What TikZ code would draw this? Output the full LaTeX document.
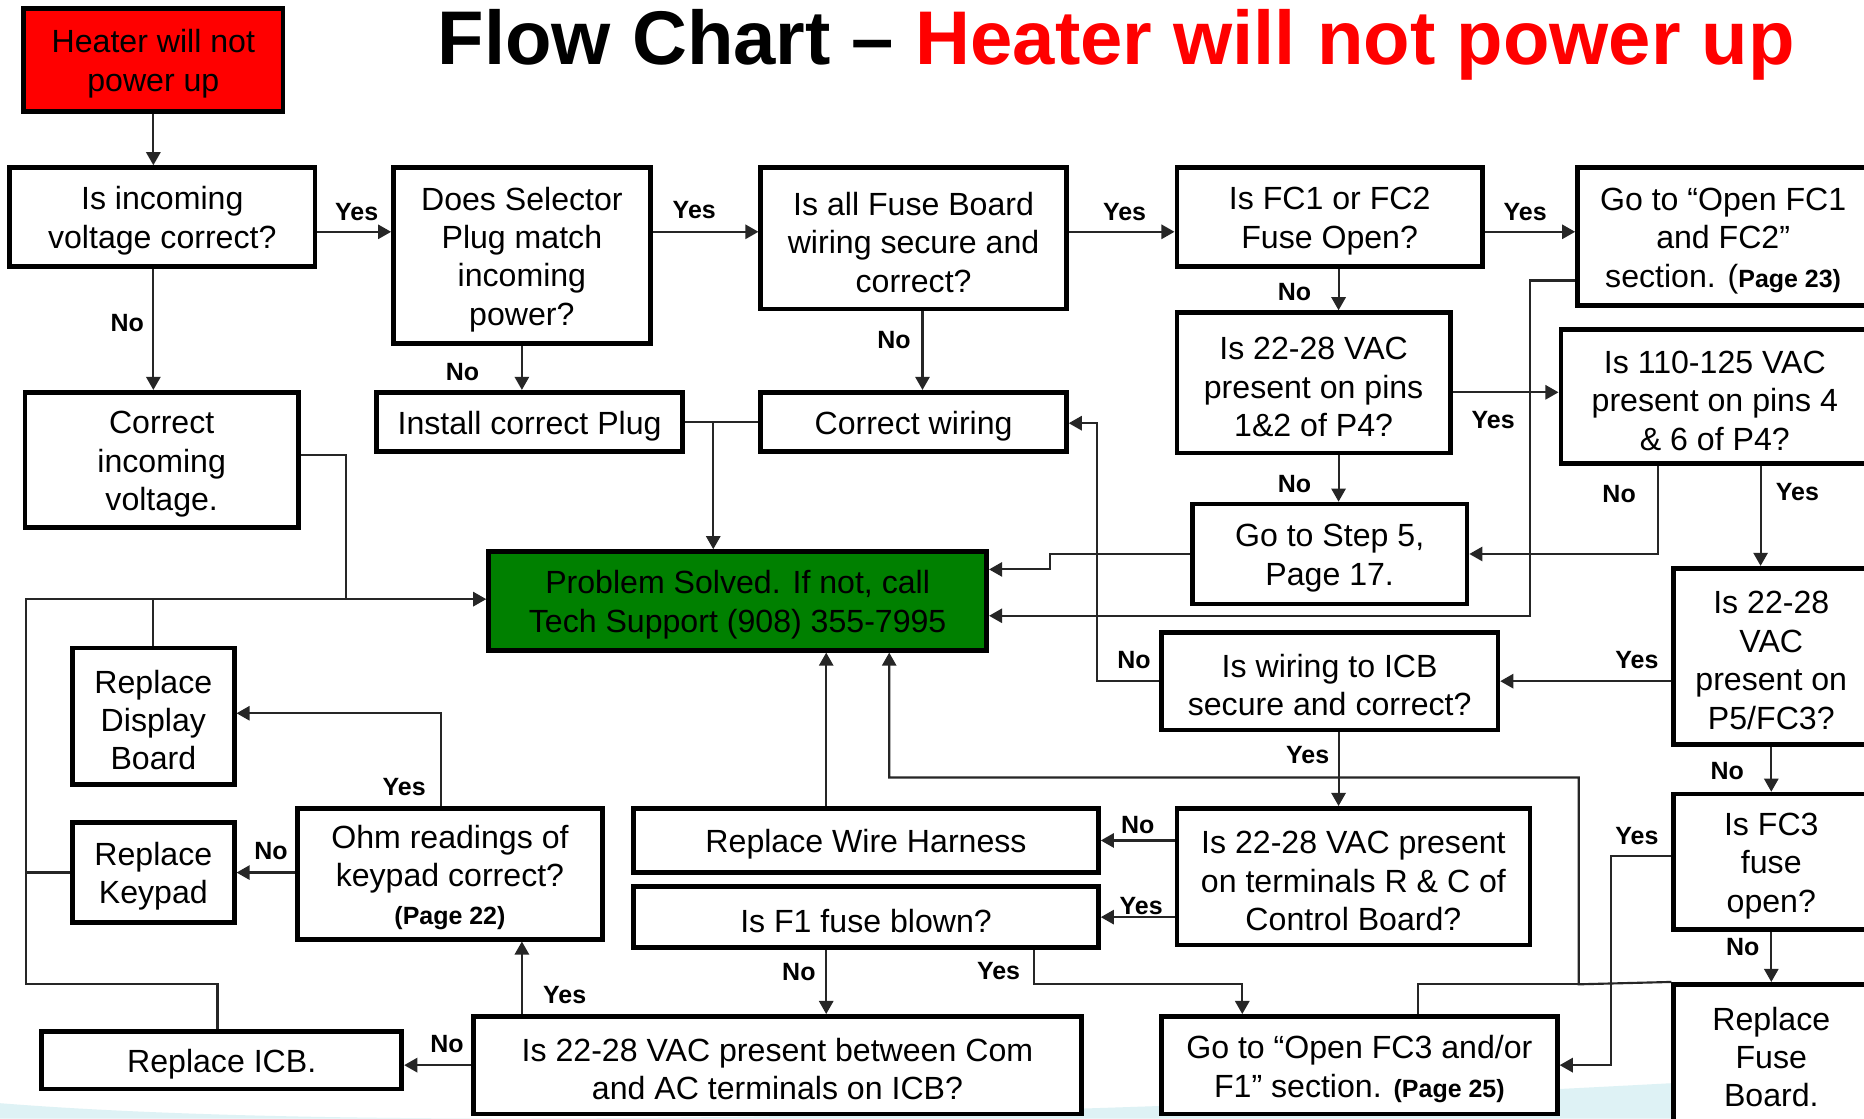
\documentclass[tikz,border=0pt]{standalone}
\usepackage{fontspec}
\setmainfont{Liberation Sans}
\usetikzlibrary{arrows.meta,calc}
\definecolor{swoosh}{RGB}{222,242,245}
\definecolor{okgreen}{RGB}{0,128,0}
\newcommand\pagefont{\bfseries\fontsize{21}{24}\selectfont}
\newcommand\mkbox[7][]{%
  \node[box,#1,minimum width={(#5-#3)*1pt},minimum height={(#6-#4)*1pt}] (#2) at ({(#3+#5)/2},{(#4+#6)/2}) {\rule{0pt}{26pt}#7};}
\tikzset{
  box/.style={draw=black,line width=4pt,fill=white,inner sep=0pt,align=center,
    font=\fontsize{27}{32.3}\selectfont},
  conn/.style={line width=1.8pt,draw=black!85},
  arr/.style={conn,-{Triangle[length=11pt,width=12pt]}},
  lbl/.style={font=\bfseries\fontsize{21}{24}\selectfont,inner sep=0pt},
}
\begin{document}
\begin{tikzpicture}[x=1pt,y=-1pt]
\useasboundingbox (0,0) rectangle (1568,941);
\clip (0,0) rectangle (1568,941);
\fill[white] (0,0) rectangle (1568,941);
\fill[swoosh] (0,941) -- (0,928) .. controls (300,952) and (900,942) .. (1568,902) -- (1568,941) -- cycle;

% title
\node[anchor=base,inner sep=0pt,font=\bfseries\fontsize{64}{70}\selectfont] (title) at (939,54) {Flow Chart – \textcolor{red}{Heater will not power up}};

% boxes
\mkbox[fill=red]{heater}{20}{7}{238}{94}{Heater will not\\power up}
\mkbox{q1}{8}{141}{265}{224}{Is incoming\\voltage correct?}
\mkbox{q2}{331}{141}{547}{289}{Does Selector\\Plug match\\incoming\\power?}
\mkbox{q3}{640}{141}{897}{260}{Is all Fuse Board\\wiring secure and\\correct?}
\mkbox{q4}{990}{141}{1247}{224}{Is FC1 or FC2\\Fuse Open?}
\mkbox{gofc12}{1327}{141}{1572}{257}{Go to “Open FC1\\and FC2”\\section. ({\pagefont Page 23)}}
\mkbox{correctv}{21}{330}{251}{444}{Correct\\incoming\\voltage.}
\mkbox{plug}{317}{330}{574}{380}{Install correct Plug}
\mkbox{cwiring}{640}{330}{897}{380}{Correct wiring}
\mkbox{q5}{990}{263}{1220}{381}{Is 22-28 VAC\\present on pins\\1\&2 of P4?}
\mkbox{q6}{1313}{277}{1572}{390}{Is 110-125 VAC\\present on pins 4\\\& 6 of P4?}
\mkbox{step5}{1003}{424}{1234}{508}{Go to Step 5,\\Page 17.}
\mkbox[fill=okgreen]{solved}{411}{464}{830}{547}{Problem Solved. If not, call\\Tech Support (908) 355-7995}
\mkbox{q7}{1408}{478}{1572}{626}{Is 22-28\\VAC\\present on\\P5/FC3?}
\mkbox{qicb}{977}{532}{1260}{614}{Is wiring to ICB\\secure and correct?}
\mkbox{repldisp}{61}{545}{197}{660}{Replace\\Display\\Board}
\mkbox{q8}{1408}{668}{1572}{782}{Is FC3\\fuse\\open?}
\mkbox{qrc}{990}{680}{1287}{795}{Is 22-28 VAC present\\on terminals R \& C of\\Control Board?}
\mkbox{harness}{533}{680}{924}{734}{Replace Wire Harness}
\mkbox{qf1}{533}{746}{924}{797}{Is F1 fuse blown?}
\mkbox{replkey}{61}{692}{197}{776}{Replace\\Keypad}
\mkbox{qohm}{250}{680}{507}{790}{Ohm readings of\\keypad correct?\\{\pagefont (Page 22)}}
\mkbox{replicb}{35}{868}{338}{916}{Replace ICB.}
\mkbox{qcom}{398}{855}{910}{937}{Is 22-28 VAC present between Com\\and AC terminals on ICB?}
\mkbox{gofc3}{977}{855}{1310}{937}{Go to “Open FC3 and/or\\F1” section. {\pagefont (Page 25)}}
\mkbox{replfuse}{1408}{828}{1572}{944}{Replace\\Fuse\\Board.}

% helper coordinates
\coordinate (r1) at (0,195);
\coordinate (c3) at (776,0);
\coordinate (c4) at (1126,0);
\coordinate (r5) at (0,330);
\coordinate (c6a) at (1395,0);
\coordinate (c6b) at (1481,0);
\coordinate (n1) at (883,479);
\coordinate (o0) at (1287,236);
\coordinate (o1) at (1287,518);
\coordinate (p0) at (291,383);
\coordinate (p1) at (291,504);
\coordinate (bl1) at (22,504);
\coordinate (bl2) at (22,828);
\coordinate (bl3) at (183,828);
\coordinate (q0) at (600,355);
\coordinate (rr) at (923,356);
\coordinate (v0) at (1355,720);
\coordinate (z0) at (695,0);
\coordinate (aa1) at (748,654);
\coordinate (aa2) at (1328,654);
\coordinate (aa3) at (1328,828);
\coordinate (aa4) at (1193,828);
\coordinate (cc1) at (870,828);
\coordinate (cc2) at (1045,828);
\coordinate (dd) at (439,0);
\coordinate (gg) at (371,600);

% connectors
\draw[arr] (heater.south) -- (heater.south |- q1.north);
\draw[arr] (q1.east |- r1) -- (q2.west |- r1);
\draw[arr] (q2.east |- r1) -- (q3.west |- r1);
\draw[arr] (q3.east |- r1) -- (q4.west |- r1);
\draw[arr] (q4.east |- r1) -- (gofc12.west |- r1);
\draw[arr] (q1.south -| heater.south) -- (correctv.north -| heater.south);
\draw[arr] (q2.south) -- (q2.south |- plug.north);
\draw[arr] (q3.south -| c3) -- (cwiring.north -| c3);
\draw[arr] (q4.south -| c4) -- (q5.north -| c4);
\draw[arr] (q5.east |- r5) -- (q6.west |- r5);
\draw[arr] (q5.south -| c4) -- (step5.north -| c4);
\draw[arr] (q6.south -| c6a) |- (step5.east);
\draw[arr] (q6.south -| c6b) -- (q7.north -| c6b);
\draw[arr] (step5.west) -| (n1) -- (n1 -| solved.east);
\draw[arr] (o0 -| gofc12.west) -- (o0) -- (o1) -- (o1 -| solved.east);
\draw[arr] (p0 -| correctv.east) -- (p0) -- (p1) -- (p1 -| solved.west);
\draw[conn] (replicb.north -| bl3) -- (bl3) -- (bl2) -- (bl1) -- (p1);
\draw[conn] (repldisp.north) -- (repldisp.north |- bl1);
\draw[conn] (replkey.west) -- (replkey.west -| bl1);
\draw[conn] (plug.east) -- (cwiring.west);
\draw[arr] (q0) -- (q0 |- solved.north);
\draw[arr] (qicb.west) -| (rr) -- (rr -| cwiring.east);
\draw[arr] (qicb.east -| q7.west) -- (qicb.east);
\draw[arr] (q7.south) -- (q8.north);
\draw[arr] (q8.south) -- (replfuse.north);
\draw[arr] (v0 -| q8.west) -- (v0) |- (gofc3.east);
\draw[arr] (qicb.south -| c4) -- (qrc.north -| c4);
\draw[arr] (qrc.west |- harness.east) -- (harness.east);
\draw[arr] (qrc.west |- qf1.east) -- (qf1.east);
\draw[arr] (harness.north -| z0) -- (solved.south -| z0);
\draw[arr] (replfuse.north west) -- (aa3) -- (aa2) -- (aa1) -- (aa1 |- solved.south);
\draw[conn] (gofc3.north -| aa4) -- (aa4) -- (aa3);
\draw[arr] (qf1.south -| z0) -- (qcom.north -| z0);
\draw[arr] (qf1.south -| cc1) -- (cc1) -- (cc2) -- (cc2 |- gofc3.north);
\draw[arr] (qcom.north -| dd) -- (qohm.south -| dd);
\draw[arr] (qcom.west) -- (qcom.west -| replicb.east);
\draw[arr] (qohm.west |- replkey.east) -- (replkey.east);
\draw[arr] (qohm.north -| gg) -- (gg) -- (gg -| repldisp.east);

% labels
\node[lbl] (l1) at (300,178) {Yes};
\node[lbl] (l2) at (584,177) {Yes};
\node[lbl] (l3) at (946,178) {Yes};
\node[lbl] (l4) at (1283,178) {Yes};
\node[lbl] (l5) at (107,272) {No};
\node[lbl] (l6) at (389,313) {No};
\node[lbl] (l7) at (752,286) {No};
\node[lbl] (l8) at (1089,246) {No};
\node[lbl] (l9) at (1256,353) {Yes};
\node[lbl] (l10) at (1089,407) {No};
\node[lbl] (l11) at (1362,416) {No};
\node[lbl] (l12) at (1512,414) {Yes};
\node[lbl] (l13) at (954,555) {No};
\node[lbl] (l14) at (1377,555) {Yes};
\node[lbl] (l15) at (1100,635) {Yes};
\node[lbl] (l16) at (1453,649) {No};
\node[lbl] (l17) at (340,662) {Yes};
\node[lbl] (l18) at (957,694) {No};
\node[lbl] (l19) at (228,716) {No};
\node[lbl] (l20) at (1377,703) {Yes};
\node[lbl] (l21) at (960,762) {Yes};
\node[lbl] (l22) at (1466,797) {No};
\node[lbl] (l23) at (672,818) {No};
\node[lbl] (l24) at (840,817) {Yes};
\node[lbl] (l25) at (475,837) {Yes};
\node[lbl] (l26) at (376,878) {No};
\end{tikzpicture}
\end{document}
